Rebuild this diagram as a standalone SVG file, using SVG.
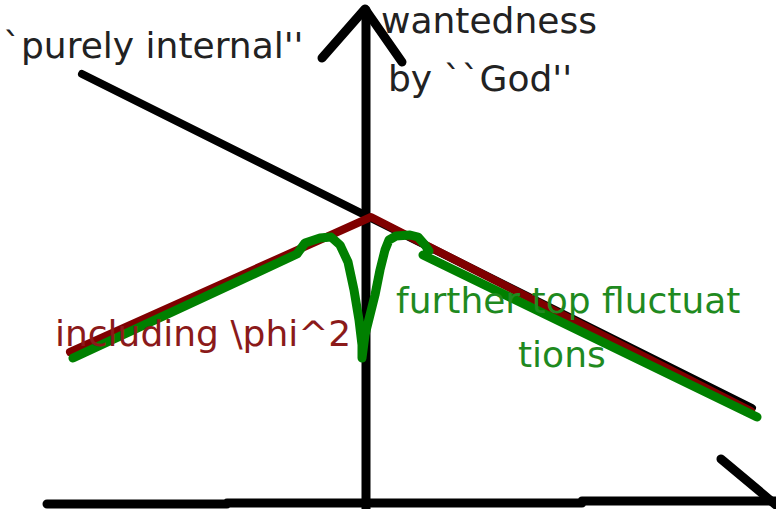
<svg xmlns="http://www.w3.org/2000/svg" width="776" height="509" viewBox="0 0 776 509">
<style>
.ax{fill:none;stroke:#000;stroke-width:9;stroke-linecap:round;stroke-linejoin:round}
.bk{fill:none;stroke:#000;stroke-width:8;stroke-linecap:round}
.rd{fill:none;stroke:#800000;stroke-width:8;stroke-linecap:round;stroke-linejoin:round}
.gr{fill:none;stroke:#008000;stroke-width:9;stroke-linecap:round;stroke-linejoin:round}
text{font-family:"DejaVu Sans","Liberation Sans",sans-serif;font-size:36px}
.tk{fill:#222}
.tr{fill:#8b1a1a}
.tg{fill:#1f8a1f}
</style>
<rect width="776" height="509" fill="#fff"/>
<g id="axes">
<path class="ax" d="M366 509 L366 10"/>
<path class="ax" d="M322 58 L365 9 L402 62"/>
<path class="ax" d="M47 504 L227 504 M227 503 L582 503 M582 501 L776 501"/>
<path class="ax" d="M721 459 L776 505"/>
</g>
<g id="lines">
<path class="bk" d="M82 74 L752 408"/>
<path class="rd" d="M70 352 L371 217 L751 411"/>
<path class="gr" d="M73 358 L297 254 L305 243 L320 238 L331 237 L340 245 L348 262 L354 290 L359 320 L362 345 L362 358 L365 335 L370 315 L375 295 L380 270 L385 250 L389 240 L396 236 L410 235 L418 237 L425 245 L429 251 M423 255 L757 417"/>
</g>
<g id="labels">
<text class="tk" x="3" y="58">`purely internal''</text>
<text class="tk" x="381" y="33">wantedness</text>
<text class="tk" x="388" y="91">by ``God''</text>
<text class="tr" x="55" y="346">including \phi^2</text>
<text class="tg" x="396" y="313">further top fluctuat</text>
<text class="tg" x="518" y="367">tions</text>
</g>
</svg>
